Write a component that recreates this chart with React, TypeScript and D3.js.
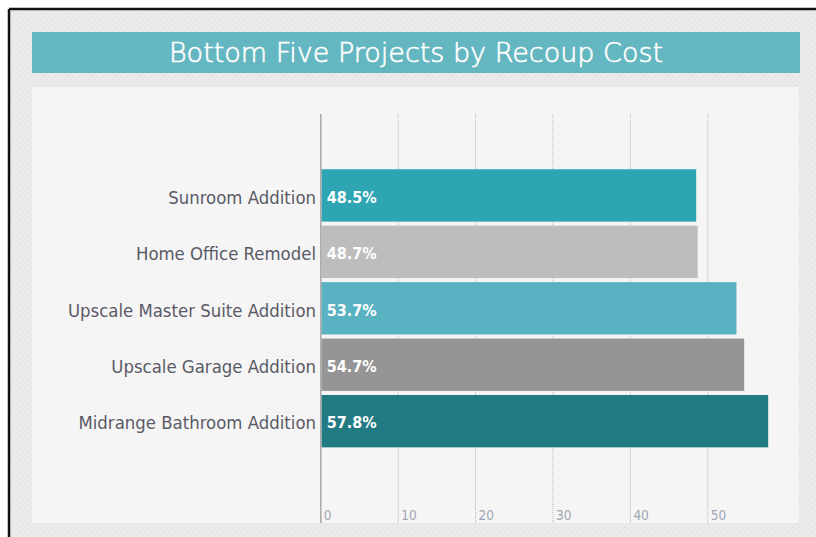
import React from "react";
import * as d3 from "d3";

const categories = [
  "Sunroom Addition",
  "Home Office Remodel",
  "Upscale Master Suite Addition",
  "Upscale Garage Addition",
  "Midrange Bathroom Addition",
];
const values = [48.5, 48.7, 53.7, 54.7, 57.8];
const barColors = ["#2ea5b2", "#bdbdbd", "#58b2c1", "#959595", "#227b82"];
const tickValues = [0, 10, 20, 30, 40, 50];
const title = "Bottom Five Projects by Recoup Cost";

const W = 816;
const H = 537;

export default function App() {
  const x = d3.scaleLinear().domain([0, 10]).range([320.8, 398.2]);
  const y = d3
    .scaleBand<string>()
    .domain(categories)
    .range([167.2, 449.4])
    .paddingInner(0.072)
    .paddingOuter(0.036);

  const labelFont = "'DejaVu Sans Condensed', 'DejaVu Sans', sans-serif";

  return (
    <svg
      width={W}
      height={H}
      style={{ position: "absolute", left: 0, top: 0, display: "block" }}
    >
      <defs>
        <pattern id="hatch" width="6" height="6" patternUnits="userSpaceOnUse">
          <rect width="6" height="6" fill="#e9e9e9" />
          <path d="M0 6 L6 0" stroke="#e2e2e2" strokeWidth="1" />
          <path d="M0 0 L6 6" stroke="#eeeeee" strokeWidth="1" />
        </pattern>
      </defs>
      <rect x={0} y={0} width={W} height={H} fill="#ffffff" />
      <rect x={9} y={9} width={W - 9} height={H - 9} fill="url(#hatch)" />
      <line x1={9} y1={9} x2={W} y2={9} stroke="#111" strokeWidth={2.5} />
      <line x1={9} y1={9} x2={9} y2={H} stroke="#111" strokeWidth={2.5} />

      {/* title banner */}
      <rect x={32} y={32} width={768} height={41} fill="#64b6c0" />
      <text
        x={416}
        y={62}
        textAnchor="middle"
        fill="#ffffff"
        stroke="#ffffff"
        strokeWidth={0.6}
        fontFamily="'DejaVu Sans', sans-serif"
        fontWeight={200}
        fontSize={27}
      >
        {title}
      </text>

      {/* panel */}
      <rect x={32} y={87} width={767} height={436} fill="#f5f5f5" />

      {/* grid lines */}
      {tickValues.slice(1).map((t) => (
        <line
          key={"g" + t}
          x1={x(t)}
          x2={x(t)}
          y1={114}
          y2={523}
          stroke="#b8b8b8"
          strokeWidth={1}
          strokeDasharray="1,1"
        />
      ))}

      {/* bars */}
      {categories.map((c, i) => (
        <rect
          key={c}
          x={x(0) + 0.6}
          y={y(c)!}
          width={x(values[i]) - x(0) - 0.6}
          height={y.bandwidth()}
          fill={barColors[i]}
        />
      ))}

      {/* zero axis line */}
      <line x1={x(0)} x2={x(0)} y1={114} y2={523} stroke="#a8a8a8" strokeWidth={1.5} />

      {/* category labels */}
      {categories.map((c) => (
        <text
          key={"l" + c}
          x={316}
          y={y(c)! + y.bandwidth() / 2}
          dy="0.45em"
          textAnchor="end"
          fill="#5a5a66"
          fontFamily={labelFont}
          fontSize={18.4}
        >
          {c}
        </text>
      ))}

      {/* value labels */}
      {categories.map((c, i) => (
        <text
          key={"v" + c}
          x={x(0) + 6}
          y={y(c)! + y.bandwidth() / 2}
          dy="0.45em"
          fill="#ffffff"
          fontFamily={labelFont}
          fontWeight="bold"
          fontSize={16}
        >
          {values[i].toFixed(1) + "%"}
        </text>
      ))}

      {/* tick labels */}
      {tickValues.map((t) => (
        <text
          key={"t" + t}
          x={x(t) + 3}
          y={520}
          fill="#9ea6b4"
          fontFamily={labelFont}
          fontSize={13.5}
        >
          {String(t)}
        </text>
      ))}
    </svg>
  );
}
